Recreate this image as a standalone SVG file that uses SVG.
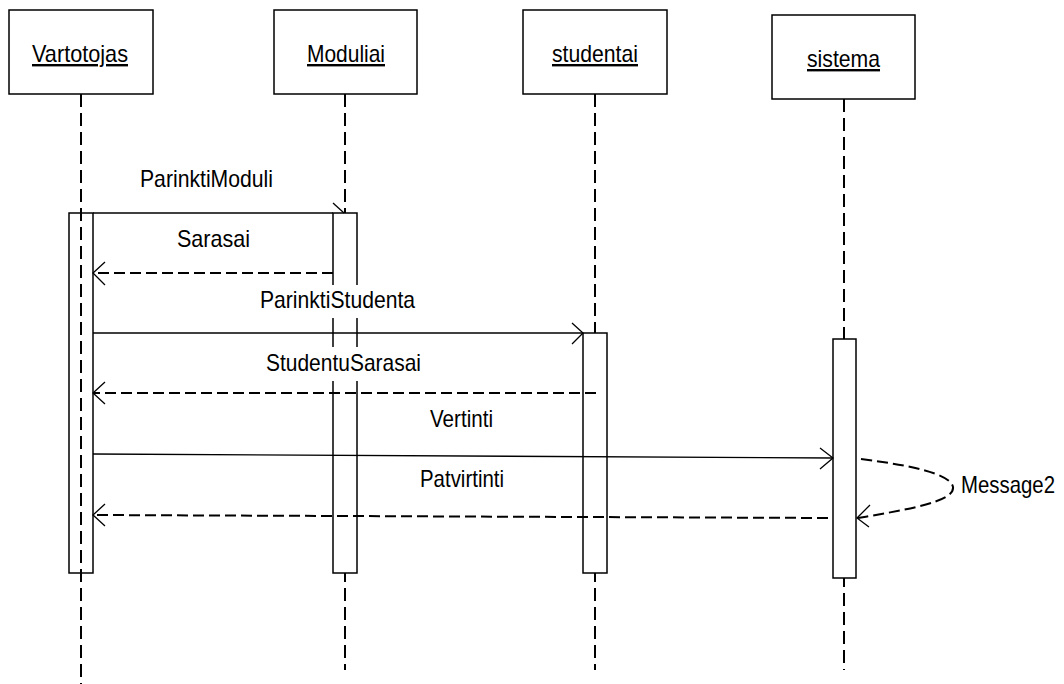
<svg xmlns="http://www.w3.org/2000/svg" width="1064" height="684" viewBox="0 0 1064 684">
  <style>
    .box { fill: #fff; stroke: #000; stroke-width: 1.5; }
    .act { fill: #fff; stroke: #000; stroke-width: 1.5; }
    .life { stroke: #000; stroke-width: 2; stroke-dasharray: 13 6; fill: none; }
    .call { stroke: #000; stroke-width: 1.3; fill: none; }
    .reply { stroke: #000; stroke-width: 2; stroke-dasharray: 11 5; fill: none; }
    .head { stroke: #000; stroke-width: 1.3; fill: none; }
    .bg { fill: #fff; stroke: none; }
    .lbl { font-family: "Liberation Sans", Arial, sans-serif; font-size: 24px; fill: #000; }
    .name { font-family: "Liberation Sans", Arial, sans-serif; font-size: 24px; fill: #000; text-decoration: underline; }
  </style>

  <!-- lifelines -->
  <g id="lifelines">
    <line class="life" x1="345" y1="94" x2="345" y2="670"/>
    <line class="life" x1="595" y1="94" x2="595" y2="670"/>
    <line class="life" x1="844" y1="99" x2="844" y2="670"/>
  </g>

  <!-- participants -->
  <g id="vartotojas">
    <rect class="box" x="9" y="10" width="144" height="84"/>
    <text class="name" x="32" y="62" textLength="96" lengthAdjust="spacingAndGlyphs">Vartotojas</text>
  </g>
  <g id="moduliai">
    <rect class="box" x="274" y="10" width="143" height="84"/>
    <text class="name" x="307" y="62" textLength="78" lengthAdjust="spacingAndGlyphs">Moduliai</text>
  </g>
  <g id="studentai">
    <rect class="box" x="523" y="10" width="144" height="84"/>
    <text class="name" x="552" y="62" textLength="86" lengthAdjust="spacingAndGlyphs">studentai</text>
  </g>
  <g id="sistema">
    <rect class="box" x="772" y="15" width="143" height="84"/>
    <text class="name" x="807" y="67" textLength="73" lengthAdjust="spacingAndGlyphs">sistema</text>
  </g>

  <!-- activations -->
  <g id="activations">
    <rect class="act" x="69" y="213" width="24" height="360"/>
    <rect class="act" x="333" y="213" width="24" height="360"/>
    <rect class="act" x="583" y="333" width="24" height="240"/>
    <rect class="act" x="833" y="339" width="23" height="239"/>
  </g>

  <!-- Vartotojas lifeline stays visible through its activation -->
  <g id="vartotojas-lifeline">
    <line class="life" x1="81" y1="94" x2="81" y2="684"/>
  </g>

  <!-- messages -->
  <g id="connectors">
    <!-- ParinktiModuli -->
    <line class="call" x1="93" y1="213" x2="333" y2="213"/>
    <polyline class="head" points="333,203 344,213"/>

    <!-- Sarasai -->
    <line class="reply" x1="333" y1="273" x2="94" y2="273"/>
    <polyline class="head" points="105,262 93,273 105,285"/>

    <!-- ParinktiStudenta -->
    <line class="call" x1="93" y1="333" x2="583" y2="333"/>
    <polyline class="head" points="572,323 583,333 572,344"/>

    <!-- StudentuSarasai -->
    <line class="reply" x1="596" y1="393" x2="94" y2="393"/>
    <polyline class="head" points="105,382 93,393 105,404"/>

    <!-- Vertinti -->
    <line class="call" x1="93" y1="454" x2="833" y2="458"/>
    <polyline class="head" points="820,448 833,458 820,469"/>

    <!-- Patvirtinti -->
    <line class="reply" x1="828" y1="518" x2="94" y2="515"/>
    <polyline class="head" points="105,504 93,515 105,526"/>

    <!-- Message2 (self call) -->
    <path class="reply" d="M861,459 C915,466 950,474 953,487 C955,502 905,510 858,518"/>
    <polyline class="head" points="870,505 857,518 869,527"/>
  </g>

  <!-- message labels on white backing -->
  <g id="labels">
    <rect class="bg" x="138" y="163" width="137" height="33"/>
    <text class="lbl" x="140" y="187" textLength="133" lengthAdjust="spacingAndGlyphs">ParinktiModuli</text>

    <rect class="bg" x="175" y="223" width="77" height="33"/>
    <text class="lbl" x="177" y="247" textLength="73" lengthAdjust="spacingAndGlyphs">Sarasai</text>

    <rect class="bg" x="258" y="285" width="159" height="33"/>
    <text class="lbl" x="260" y="308" textLength="155" lengthAdjust="spacingAndGlyphs">ParinktiStudenta</text>

    <rect class="bg" x="264" y="347" width="159" height="34"/>
    <text class="lbl" x="266" y="371" textLength="155" lengthAdjust="spacingAndGlyphs">StudentuSarasai</text>

    <text class="lbl" x="430" y="427" textLength="63" lengthAdjust="spacingAndGlyphs">Vertinti</text>

    <text class="lbl" x="420" y="487" textLength="84" lengthAdjust="spacingAndGlyphs">Patvirtinti</text>

    <text class="lbl" x="961" y="493" textLength="94" lengthAdjust="spacingAndGlyphs">Message2</text>
  </g>
</svg>
